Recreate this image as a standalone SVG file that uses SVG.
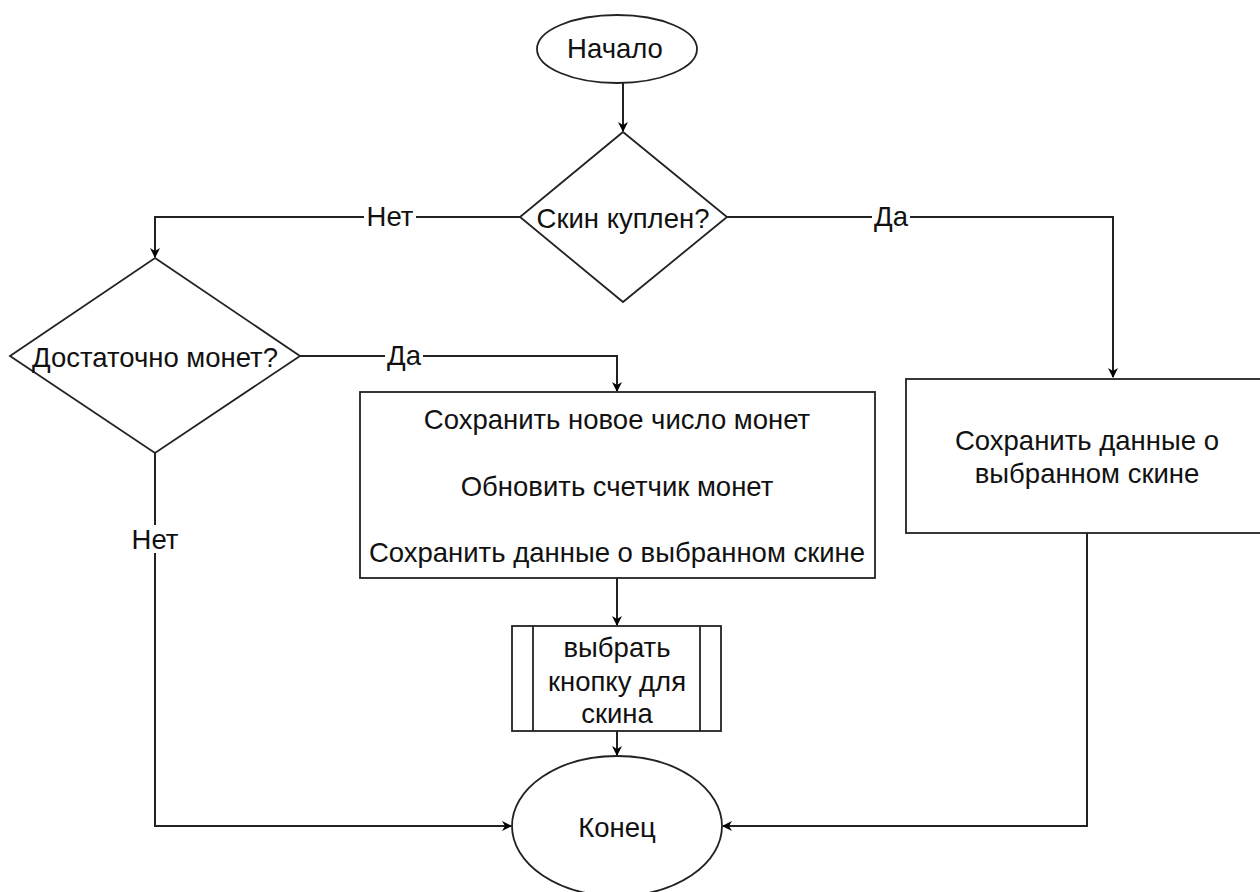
<svg xmlns="http://www.w3.org/2000/svg" width="1260" height="892" viewBox="0 0 1260 892">
  <defs>
    <marker id="arrow" viewBox="0 0 10 10" refX="9" refY="5" markerWidth="10" markerHeight="10" markerUnits="userSpaceOnUse" orient="auto">
      <path d="M0,0 L10,5 L0,10 L3,5 Z" fill="#000"/>
    </marker>
    <style>
      .shape { fill: #fff; stroke: #222; stroke-width: 1.8; }
      .edge { fill: none; stroke: #222; stroke-width: 2; marker-end: url(#arrow); }
      .plain { fill: none; stroke: #222; stroke-width: 1.8; }
      text { font-family: "Liberation Sans", Arial, sans-serif; font-size: 27.5px; fill: #111; text-anchor: middle; dominant-baseline: central; }
      .lbl-bg { fill: #fff; }
    </style>
  </defs>
  <rect width="1260" height="892" fill="#fff"/>

  <!-- connectors -->
  <g id="connectors">
    <path class="edge" d="M623,83 L623,131"/>
    <path class="edge" d="M520,217 L155,217 L155,257"/>
    <path class="edge" d="M727,217 L1113,217 L1113,377"/>
    <path class="edge" d="M300,356 L617,356 L617,391"/>
    <path class="edge" d="M617,578 L617,625"/>
    <path class="edge" d="M617,731 L617,755"/>
    <path class="edge" d="M155,453 L155,826 L511,826"/>
    <path class="edge" d="M1087,533 L1087,826 L723,826"/>
    <!-- edge labels -->
    <rect class="lbl-bg" x="364" y="203" width="52" height="28"/>
    <text x="390" y="216">Нет</text>
    <rect class="lbl-bg" x="872" y="203" width="38" height="28"/>
    <text x="891" y="216">Да</text>
    <rect class="lbl-bg" x="385" y="342" width="38" height="28"/>
    <text x="404" y="355">Да</text>
    <rect class="lbl-bg" x="129" y="525" width="52" height="28"/>
    <text x="155" y="539">Нет</text>
  </g>

  <g id="start">
    <ellipse class="shape" cx="617" cy="49" rx="80" ry="34"/>
    <text x="615" y="48">Начало</text>
  </g>

  <g id="skin-bought">
    <polygon class="shape" points="623,132 727,217 623,302 520,217"/>
    <text x="623" y="218">Скин куплен?</text>
  </g>

  <g id="enough-coins">
    <polygon class="shape" points="155,258 300,356 155,453 10,356"/>
    <text x="155" y="357">Достаточно монет?</text>
  </g>

  <g id="buy-skin">
    <rect class="shape" x="360" y="392" width="515" height="186"/>
    <text x="617" y="419">Сохранить новое число монет</text>
    <text x="617" y="486">Обновить счетчик монет</text>
    <text x="617" y="552">Сохранить данные о выбранном скине</text>
  </g>

  <g id="save-skin">
    <rect class="shape" x="906" y="379" width="364" height="154"/>
    <text x="1087" y="440">Сохранить данные о</text>
    <text x="1087" y="473">выбранном скине</text>
  </g>

  <g id="choose-button">
    <rect class="shape" x="512" y="626" width="209" height="105"/>
    <line class="plain" x1="533" y1="626" x2="533" y2="731"/>
    <line class="plain" x1="700" y1="626" x2="700" y2="731"/>
    <text x="617" y="647">выбрать</text>
    <text x="617" y="681">кнопку для</text>
    <text x="617" y="713">скина</text>
  </g>

  <g id="end">
    <ellipse class="shape" cx="617" cy="826" rx="105" ry="70"/>
    <text x="617" y="827">Конец</text>
  </g>
</svg>
